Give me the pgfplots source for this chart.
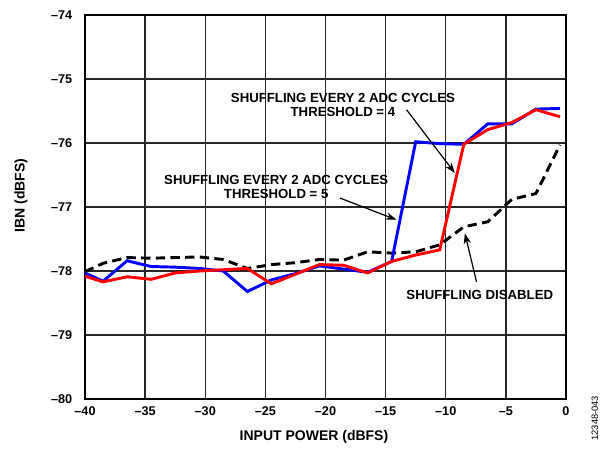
\documentclass[border=0pt]{standalone}
\usepackage{fontspec}
\setmainfont{Liberation Sans}
\usepackage{pgfplots}
\pgfplotsset{compat=1.18}
\usetikzlibrary{arrows.meta}

\definecolor{adblue}{RGB}{0,0,255}
\definecolor{adred}{RGB}{255,0,0}

% threshold = 5
\pgfplotstableread{
x y
-40 -78.03
-38.5 -78.16
-36.5 -77.84
-34.5 -77.93
-32.5 -77.94
-30.5 -77.96
-28.5 -78.00
-26.5 -78.32
-24.5 -78.14
-22.5 -78.04
-20.5 -77.92
-18.5 -77.97
-16.5 -78.02
-14.5 -77.85
-12.5 -75.98
-10.5 -76.01
-8.5 -76.02
-6.5 -75.70
-4.5 -75.70
-2.5 -75.47
-0.5 -75.46
}\thrfive

% threshold = 4
\pgfplotstableread{
x y
-40 -78.08
-38.5 -78.17
-36.5 -78.09
-34.5 -78.13
-32.5 -78.03
-30.5 -78.00
-28.5 -77.98
-26.5 -77.96
-24.5 -78.20
-22.5 -78.05
-20.5 -77.90
-18.5 -77.91
-16.5 -78.03
-14.5 -77.85
-12.5 -77.75
-10.5 -77.67
-8.5 -76.02
-6.5 -75.79
-4.5 -75.68
-2.5 -75.48
-0.5 -75.59
}\thrfour

% shuffling disabled
\pgfplotstableread{
x y
-40 -78.01
-38.5 -77.88
-36.5 -77.79
-34.5 -77.80
-32.5 -77.79
-30.5 -77.78
-28.5 -77.82
-26.5 -77.96
-24.5 -77.90
-22.5 -77.87
-20.5 -77.82
-18.5 -77.83
-16.5 -77.70
-14.5 -77.72
-12.5 -77.70
-10.5 -77.59
-8.5 -77.31
-6.5 -77.23
-4.5 -76.88
-2.5 -76.79
-0.5 -76.03
}\noshuf

\begin{document}
\begin{tikzpicture}
\useasboundingbox (-63.75pt,-42pt) rectangle (390pt,299.25pt);
\begin{axis}[
  at={(0,0)}, anchor=south west,
  scale only axis,
  width=360.75pt, height=288pt,
  xmin=-40, xmax=0, ymin=-80, ymax=-74,
  xtick={-40,-35,...,0}, ytick={-80,-79,...,-74},
  xticklabels={–40,–35,–30,–25,–20,–15,–10,–5,0},
  yticklabels={–80,–79,–78,–77,–76,–75,–74},
  grid=major,
  major grid style={black!85, line width=1pt},
  axis line style={line width=1.5pt},
  major tick length=0pt,
  tick label style={font=\bfseries\fontsize{9.5}{11}\selectfont},
  xticklabel style={yshift=-2pt},
  yticklabel style={xshift=-6pt},
  xlabel={INPUT POWER (dBFS)}, ylabel={IBN (dBFS)},
  every axis x label/.style={at={(axis description cs:0.476,-0.099)}, anchor=center,
    font=\bfseries\fontsize{10.5}{12}\selectfont},
  every axis y label/.style={at={(axis description cs:-0.133,0.53)}, anchor=center, rotate=90,
    font=\bfseries\fontsize{10.5}{12}\selectfont},
  clip=false,
]
\addplot[black, line width=2.2pt, dash pattern=on 7pt off 4pt] table {\noshuf};
\addplot[adblue, line width=2.2pt] table {\thrfive};
\addplot[adred, line width=2.2pt] table {\thrfour};

\node[font=\bfseries\fontsize{9.9}{10.8}\selectfont, align=center] at (axis cs:-18.55,-75.41)
  {SHUFFLING EVERY 2 ADC CYCLES\\THRESHOLD = 4};
\node[font=\bfseries\fontsize{9.9}{10.8}\selectfont, align=center] at (axis cs:-24.1,-76.69)
  {SHUFFLING EVERY 2 ADC CYCLES\\THRESHOLD = 5};
\node[font=\bfseries\fontsize{9.9}{10.8}\selectfont] at (axis cs:-7.17,-78.375)
  {SHUFFLING DISABLED};
\draw[-{Stealth[length=8pt,width=5.5pt]}, line width=0.9pt] (axis cs:-13.26,-75.48) -- (axis cs:-9.24,-76.47);
\draw[-{Stealth[length=8pt,width=5.5pt]}, line width=0.9pt] (axis cs:-18.8,-76.86) -- (axis cs:-14.1,-77.2);
\draw[-{Stealth[length=8pt,width=5.5pt]}, line width=0.9pt] (axis cs:-7.44,-78.17) -- (axis cs:-8.41,-77.41);
\node[rotate=90, font=\fontsize{7}{8}\selectfont] at (axis description cs:1.06,-0.05) {12348-043};
\end{axis}
\end{tikzpicture}
\end{document}
